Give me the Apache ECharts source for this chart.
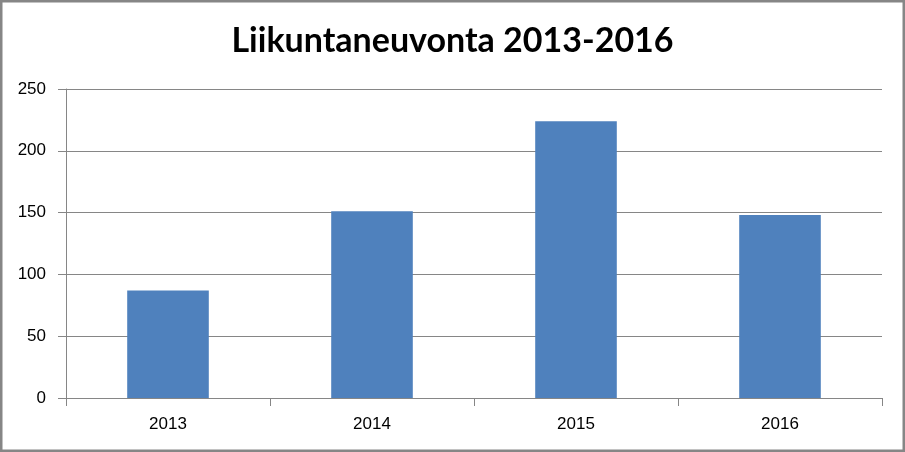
<!DOCTYPE html>
<html><head><meta charset="utf-8">
<script src="https://cdn.jsdelivr.net/npm/echarts@6/dist/echarts.min.js"></script>
<style>html,body{margin:0;padding:0;background:#fff}#c{width:905px;height:452px;box-sizing:border-box}</style>
</head><body>
<div id="c"></div>
<script>
const title = 'Liikuntaneuvonta 2013-2016';
const categories = ['2013', '2014', '2015', '2016'];
const values = [87, 151, 224, 148];

const chart = echarts.init(document.getElementById('c'));
chart.setOption({
  animation: false,
  backgroundColor: '#fff',
  title: {
    text: title, left: 'center', top: 19,
    textStyle: { fontFamily: 'Lato', fontWeight: 'bold', fontSize: 34, color: '#000' }
  },
  grid: { left: 66, right: 23, top: 89, bottom: 54 },
  xAxis: {
    type: 'category', data: categories,
    axisLine: { lineStyle: { color: '#868686', width: 1 } },
    axisTick: { show: true, length: 8, lineStyle: { color: '#868686' } },
    axisLabel: { color: '#000', fontFamily: 'Liberation Sans', fontSize: 17, margin: 18 }
  },
  yAxis: {
    type: 'value', min: 0, max: 250, interval: 50,
    axisLine: { show: true, lineStyle: { color: '#868686', width: 1 } },
    axisTick: { show: true, length: 8, lineStyle: { color: '#868686' } },
    splitLine: { lineStyle: { color: '#868686', width: 1 } },
    axisLabel: { color: '#000', fontFamily: 'Liberation Sans', fontSize: 17, margin: 20 }
  },
  series: [{
    type: 'bar', data: values, barWidth: '40%',
    itemStyle: { color: '#4f81bd' }
  }],
  graphic: [{
    type: 'rect', shape: { x: 1, y: 1, width: 903, height: 450 },
    style: { fill: 'none', stroke: '#868686', lineWidth: 3 }, z: 100
  }]
});
</script>
</body></html>
